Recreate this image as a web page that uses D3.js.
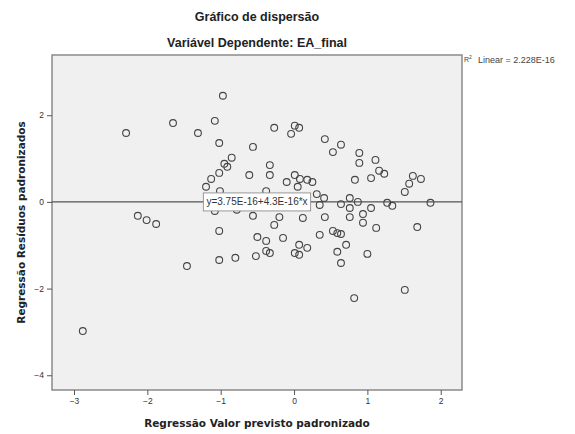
<!DOCTYPE html>
<html>
<head>
<meta charset="utf-8">
<script src="https://d3js.org/d3.v7.min.js"></script>
<style>
  body { margin: 0; background: #ffffff; }
  text { font-family: "Liberation Sans", Arial, sans-serif; }
</style>
</head>
<body>
<svg id="drawing_region"></svg>
<script>
// predicted value (x) and residual (y), standardized
const predicted = [
    -0.97, -1.65, -2.29, -1.08, -1.31, -1.02, -0.56, -0.27, 0.01, 0.07,
    -0.04, -0.85, -0.95, -0.91, -0.33, -0.33, -0.61, -1.02, -1.13, 0.01,
    -0.10, -1.20, -1.01, -0.38, 0.05, 0.42, 0.64, 0.53, 0.89, 0.89,
    1.11, 1.16, 1.23, 1.05, 0.83, 1.62, 1.73, 1.57, 1.51, 0.08,
    0.18, 0.25, 0.31, 0.41, 0.76, 0.87, 1.27, 1.34, 0.35, 0.64,
    0.76, 0.94, 1.05, 1.86, 0.12, 0.42, 0.76, 0.94, 1.12, 1.68,
    -0.15, 0.35, 0.53, 0.59, 0.64, 0.07, 0.01, 0.07, 0.71, 0.59,
    1.00, 0.64, 0.82, 1.51, -2.13, -2.01, -1.88, -1.46, -1.02, -0.56,
    -0.20, -0.27, -0.50, -0.38, -0.38, -0.33, -0.52, -1.02, -0.80, 0.18,
    -2.88, -1.08, -0.78
];
const residual = [
    2.45, 1.82, 1.59, 1.87, 1.59, 1.36, 1.27, 1.71, 1.76, 1.71,
    1.57, 1.02, 0.88, 0.81, 0.85, 0.62, 0.62, 0.67, 0.53, 0.62,
    0.46, 0.35, 0.25, 0.25, 0.35, 1.45, 1.32, 1.15, 1.13, 0.90,
    0.97, 0.72, 0.65, 0.55, 0.51, 0.60, 0.53, 0.42, 0.23, 0.53,
    0.51, 0.46, 0.18, 0.09, 0.09, 0.00, -0.02, -0.09, -0.07, -0.05,
    -0.14, -0.28, -0.14, -0.02, -0.37, -0.35, -0.35, -0.48, -0.60, -0.58,
    -0.83, -0.76, -0.67, -0.72, -0.74, -0.99, -1.18, -1.22, -0.99, -1.15,
    -1.20, -1.41, -2.22, -2.03, -0.32, -0.42, -0.51, -1.48, -0.67, -0.32,
    -0.35, -0.53, -0.81, -0.90, -1.13, -1.18, -1.25, -1.34, -1.29, -1.06,
    -2.98, -0.21, -0.18
];
const xticks = [-3, -2, -1, 0, 1, 2];
const yticks = [-4, -2, 0, 2];
const fit = { intercept: 3.75e-16, slope: 4.3e-16 };
const fit_label = "y=3.75E-16+4.3E-16*x";
const legend_label = "Linear = 2.228E-16";
const titles = ["Gráfico de dispersão", "Variável Dependente: EA_final"];
const xlabel = "Regressão Valor previsto padronizado";
const ylabel = "Regressão Resíduos padronizados";

const data = predicted.map( (d, i) => ({ x: d, y: residual[i] }) );

class ScatterPlot {

    constructor( config, data ) {
        this.config = {
            parent: config.parent,
            width: config.width || 256,
            height: config.height || 256,
            margin: config.margin || {top:10, right:10, bottom:10, left:10}
        }
        this.data = data;
        this.init();
    }

    init() {
        let self = this;

        self.svg = d3.select( self.config.parent )
            .attr('width', self.config.width)
            .attr('height', self.config.height);

        self.chart = self.svg.append('g')
            .attr('transform', `translate(${self.config.margin.left}, ${self.config.margin.top})`);

        self.inner_width = self.config.width - self.config.margin.left - self.config.margin.right;
        self.inner_height = self.config.height - self.config.margin.top - self.config.margin.bottom;

        self.xscale = d3.scaleLinear()
            .domain( [-3.3, 2.29] )
            .range( [0, self.inner_width] );

        self.yscale = d3.scaleLinear()
            .domain( [-4.34, 3.39] )
            .range( [self.inner_height, 0] );

        self.xaxis = d3.axisBottom( self.xscale )
            .tickValues( xticks )
            .tickFormat( d3.format('d') )
            .tickSize(5)
            .tickSizeOuter(0);

        self.yaxis = d3.axisLeft( self.yscale )
            .tickValues( yticks )
            .tickFormat( d3.format('d') )
            .tickSize(5)
            .tickSizeOuter(0);
    }

    render() {
        let self = this;

        self.chart.append('rect')
            .attr('width', self.inner_width)
            .attr('height', self.inner_height)
            .attr('fill', '#f0f0f0')
            .attr('stroke', '#8a8a8a')
            .attr('stroke-width', 1.5);

        const xaxis_group = self.chart.append('g')
            .attr('transform', `translate(0, ${self.inner_height})`)
            .call( self.xaxis );
        const yaxis_group = self.chart.append('g')
            .call( self.yaxis );

        [xaxis_group, yaxis_group].forEach( g => {
            g.select('.domain').remove();
            g.selectAll('line').attr('stroke', '#555');
            g.selectAll('text')
                .attr('fill', '#333')
                .style('font-size', '8.5px');
        });

        // fitted line
        const xd = self.xscale.domain();
        const line = d3.line()
            .x( d => self.xscale(d) )
            .y( d => self.yscale( fit.intercept + fit.slope * d ) );
        self.chart.append('path')
            .datum( xd )
            .attr('d', line)
            .attr('fill', 'none')
            .attr('stroke', '#555')
            .attr('stroke-width', 1.3);

        self.chart.selectAll('circle')
            .data( self.data )
            .enter()
            .append('circle')
            .attr('cx', d => self.xscale( d.x ) )
            .attr('cy', d => self.yscale( d.y ) )
            .attr('r', 3.4)
            .attr('fill', 'none')
            .attr('stroke', '#444')
            .attr('stroke-width', 1.1);

        // label of the fit, at the middle of the line
        const xm = (xd[0] + xd[1]) / 2;
        const lab = self.chart.append('g')
            .attr('transform', `translate(${self.xscale(xm)}, ${self.yscale(fit.intercept + fit.slope * xm)})`);
        const box = lab.append('rect');
        const t = lab.append('text')
            .attr('text-anchor', 'middle')
            .attr('dy', '0.35em')
            .attr('fill', '#333')
            .style('font-size', '10px')
            .text( fit_label );
        const bb = t.node().getBBox();
        box.attr('x', bb.x - 3)
            .attr('y', -9)
            .attr('width', bb.width + 6)
            .attr('height', 18)
            .attr('fill', '#ffffff')
            .attr('stroke', '#999');

        // legend at the top right
        const lg = self.chart.append('g')
            .attr('transform', `translate(${self.inner_width + 2}, 7)`);
        lg.append('text')
            .attr('fill', '#444')
            .style('font-size', '7px')
            .html('R<tspan dy="-3" style="font-size:5px">2</tspan>');
        lg.append('text')
            .attr('x', 14)
            .attr('y', 1)
            .attr('fill', '#444')
            .style('font-size', '9px')
            .text( legend_label );

        // titles and axis labels
        self.svg.selectAll('.title')
            .data( titles )
            .enter()
            .append('text')
            .attr('class', 'title')
            .attr('x', self.config.margin.left + self.inner_width / 2)
            .attr('y', (d, i) => 21 + i * 26)
            .attr('text-anchor', 'middle')
            .attr('fill', '#222')
            .style('font-size', '12.5px')
            .style('font-weight', 'bold')
            .text( d => d );

        self.svg.append('text')
            .attr('x', self.config.margin.left + self.inner_width / 2)
            .attr('y', 427)
            .attr('text-anchor', 'middle')
            .attr('fill', '#222')
            .style('font-family', '"DejaVu Sans", sans-serif')
            .style('font-size', '10.5px')
            .style('font-weight', 'bold')
            .text( xlabel );

        self.svg.append('text')
            .attr('transform', `translate(25, ${self.config.margin.top + self.inner_height / 2}) rotate(-90)`)
            .attr('text-anchor', 'middle')
            .attr('fill', '#222')
            .style('font-family', '"DejaVu Sans", sans-serif')
            .style('font-size', '10.5px')
            .style('font-weight', 'bold')
            .text( ylabel );
    }
}

const config = {
    parent: '#drawing_region',
    width: 575,
    height: 434,
    margin: {top:55, right:113, bottom:44, left:52}
};

const scatter_plot = new ScatterPlot( config, data );
scatter_plot.render();
</script>
</body>
</html>
